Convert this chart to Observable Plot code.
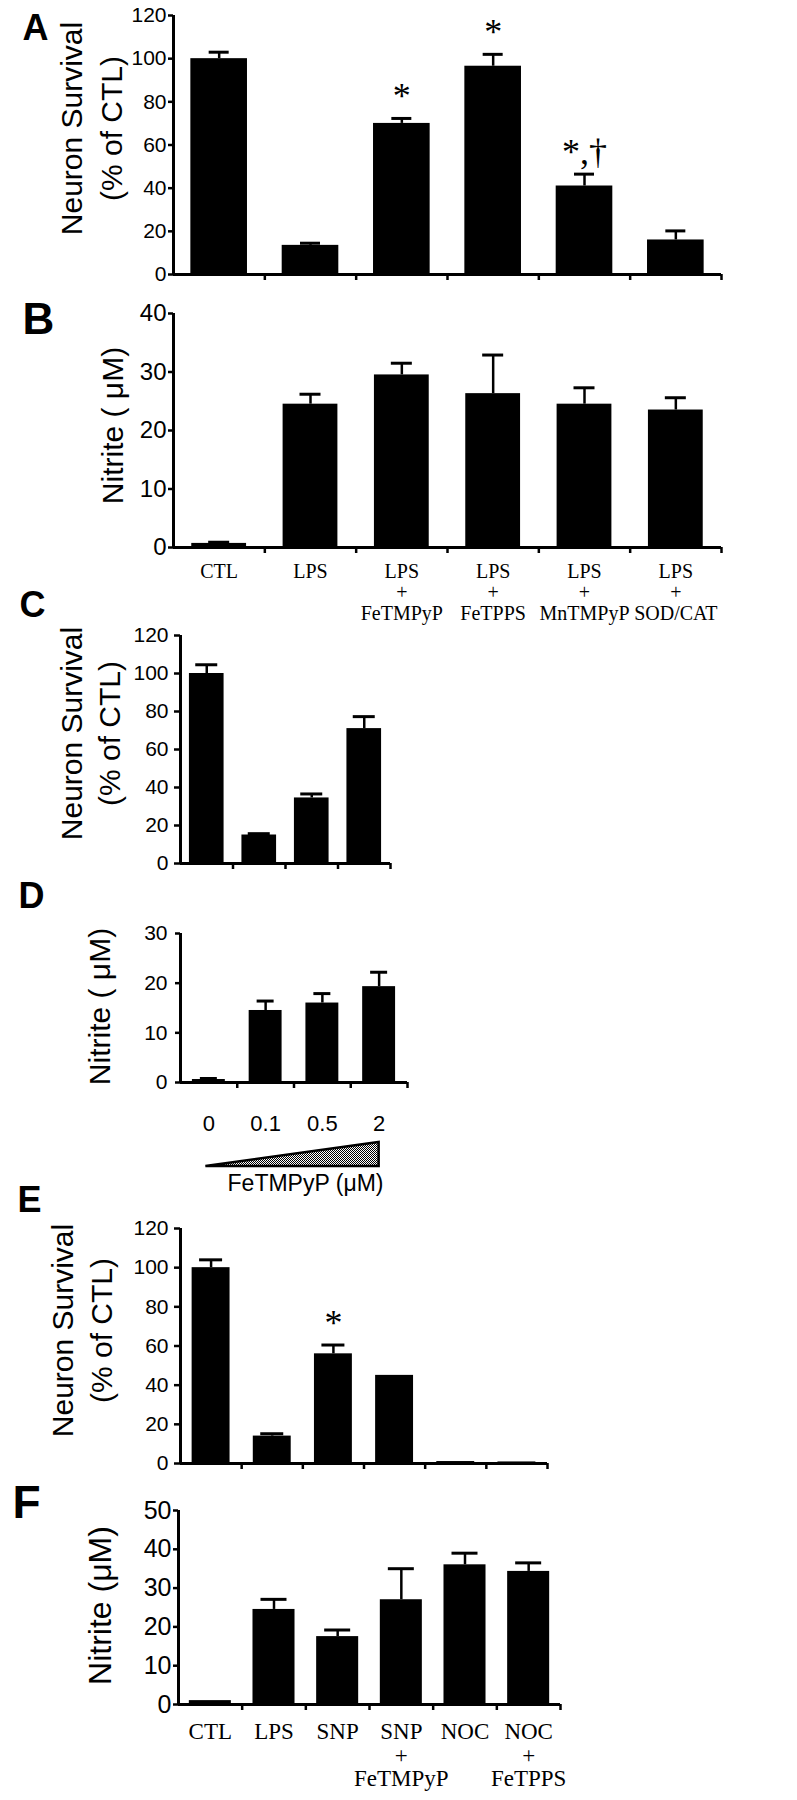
<!DOCTYPE html>
<html><head><meta charset="utf-8">
<script src="https://cdn.jsdelivr.net/npm/d3@7"></script>
<script src="https://cdn.jsdelivr.net/npm/@observablehq/plot@0.6"></script>
<style>
body{margin:0;background:#fff;}
#fig{position:relative;width:797px;height:1800px;overflow:hidden;}
</style></head><body><div id="fig"></div>
<script>
// ---- data ----
const catsAB = ["CTL", "LPS", "LPS\n+\nFeTMPyP", "LPS\n+\nFeTPPS", "LPS\n+\nMnTMPyP", "LPS\n+\nSOD/CAT"];
const survivalA = [100, 13.5, 70, 96.5, 41, 16];
const survivalAErr = [3, 1, 2.3, 5.5, 5.5, 4.2];
const marksA = ["", "", "*", "*", "*,†", ""];
const nitriteB = [0.7, 24.5, 29.5, 26.3, 24.5, 23.5];
const nitriteBErr = [0.2, 1.7, 2, 6.6, 2.8, 2.1];
const dosesCD = ["0", "0.1", "0.5", "2"];
const survivalC = [100, 15, 34.5, 71];
const survivalCErr = [4.6, 0.7, 2.1, 6.3];
const nitriteD = [0.6, 14.5, 16, 19.3];
const nitriteDErr = [0.2, 1.9, 1.9, 2.9];
const catsEF = ["CTL", "LPS", "SNP", "SNP\n+\nFeTMPyP", "NOC", "NOC\n+\nFeTPPS"];
const survivalE = [100, 14, 56, 45, 1, 0.8];
const survivalEErr = [4, 1.2, 4.5, 0, 0, 0];
const marksE = ["", "", "*", "", "", ""];
const nitriteF = [1, 24.5, 17.5, 27, 36, 34.3];
const nitriteFErr = [0, 2.6, 1.7, 8, 3, 2.2];
const ticksSurvival = [0, 20, 40, 60, 80, 100, 120];
const ticksNitrite40 = [0, 10, 20, 30, 40];
const ticksNitrite30 = [0, 10, 20, 30];
const ticksNitrite50 = [0, 10, 20, 30, 40, 50];
const titleSurvival = ["Neuron Survival", "(% of CTL)"];

const W = 797;
const fig = document.getElementById("fig");
const SANS = "'Liberation Sans', Arial, Helvetica, sans-serif";
const SERIF = "'Liberation Serif', 'Times New Roman', serif";

function panel(o) {
  const n = o.cats.length;
  const mt = o.yTopPx - o.top, mb = o.bottom - o.y0Px, height = o.bottom - o.top;
  const ml = o.x0, mr = W - o.x1;
  const band = (o.x1 - o.x0) / n;
  const rows = o.cats.map((c, i) => ({i, c, v: o.values[i], e: o.errs[i], s: o.stars ? o.stars[i] : ""}));
  const bh = o.barFrac / 2, ch = o.capPx / 2 / band;
  const withErr = rows.filter(d => d.e > 0);
  const frameMid = o.top + mt + (height - mt - mb) / 2;
  const marks = [
    Plot.rectY(rows, {x1: d => d.i + 0.5 - bh, x2: d => d.i + 0.5 + bh, y1: 0, y2: "v", fill: "black"}),
    Plot.ruleX(withErr, {x: d => d.i + 0.5, y1: "v", y2: d => d.v + d.e, strokeWidth: 2.5}),
    Plot.ruleY(withErr, {y: d => d.v + d.e, x1: d => d.i + 0.5 - ch, x2: d => d.i + 0.5 + ch, strokeWidth: 3}),
    Plot.axisY({ticks: o.yTicks, tickSize: o.tickSize, tickPadding: o.tickPadding, strokeWidth: 2.5, fontSize: o.tickFont, fontFamily: SANS, label: null}),
    Plot.axisX({ticks: d3.range(1, n + 1), tickSize: 6, tickFormat: () => "", strokeWidth: 2.5, label: null}),
    Plot.ruleX([0], {strokeWidth: 3}),
    Plot.ruleY([0], {strokeWidth: 3}),
    Plot.text([o.letter.t], {frameAnchor: "top-left", dx: o.letter.x - ml, dy: o.letter.y - o.yTopPx, lineAnchor: "top", textAnchor: "start", fontWeight: "bold", fontSize: o.letter.size, fontFamily: SANS}),
    ...o.ytitle.map(t => Plot.text([t.t], {frameAnchor: "left", textAnchor: "middle", lineAnchor: "middle", rotate: -90, dx: t.x - ml, dy: o.ytitleY - frameMid, fontSize: o.ytitleSize, fontFamily: SANS}))
  ];
  if (o.stars) marks.push(Plot.text(rows.filter(d => d.s), {x: d => d.i + 0.5, y: d => d.v + d.e, text: "s", lineAnchor: "bottom", dy: -10, fontSize: 36, fontFamily: SERIF}));
  if (o.xlabels) marks.push(Plot.text(rows, {x: d => d.i + 0.5, text: "c", frameAnchor: "bottom", lineAnchor: o.xlabels.anchor, dy: o.xlabels.dy, lineHeight: o.xlabels.lh, fontSize: o.xlabels.size, fontFamily: o.xlabels.font}));
  if (o.extra) marks.push(...o.extra);
  const svg = Plot.plot({
    width: W, height,
    marginTop: mt, marginBottom: mb, marginLeft: ml, marginRight: mr,
    x: {domain: [0, n], axis: null},
    y: {domain: o.yDomain, axis: null},
    style: {background: "transparent", color: "black", fontFamily: SANS, fontSize: o.tickFont + "px", overflow: "visible"},
    marks
  });
  svg.style.position = "absolute";
  svg.style.left = "0px";
  svg.style.top = o.top + "px";
  fig.appendChild(svg);
  return svg;
}

panel({top: 0, bottom: 300, yTopPx: 15, y0Px: 274, x0: 173, x1: 721,
  cats: catsAB, values: survivalA, errs: survivalAErr, stars: marksA,
  yDomain: [0, 120], yTicks: ticksSurvival, tickFont: 21, tickSize: 5, tickPadding: 2,
  barFrac: 0.62, capPx: 20, letter: {t: "A", x: 22, y: 14, size: 36},
  ytitle: [{t: titleSurvival[0], x: 72}, {t: titleSurvival[1], x: 112}], ytitleY: 128, ytitleSize: 30});

panel({top: 290, bottom: 630, yTopPx: 313, y0Px: 547, x0: 173, x1: 721,
  cats: catsAB, values: nitriteB, errs: nitriteBErr,
  yDomain: [0, 40], yTicks: ticksNitrite40, tickFont: 24, tickSize: 5, tickPadding: 2,
  barFrac: 0.6, capPx: 21, letter: {t: "B", x: 22, y: 302, size: 44},
  ytitle: [{t: "Nitrite ( μM)", x: 113}], ytitleY: 425, ytitleSize: 30,
  xlabels: {anchor: "top", dy: 15, lh: 1.07, size: 20, font: SERIF}});

panel({top: 580, bottom: 880, yTopPx: 635, y0Px: 863, x0: 180, x1: 390,
  cats: dosesCD, values: survivalC, errs: survivalCErr,
  yDomain: [0, 120], yTicks: ticksSurvival, tickFont: 21, tickSize: 6, tickPadding: 6,
  barFrac: 0.66, capPx: 22, letter: {t: "C", x: 19, y: 591, size: 36},
  ytitle: [{t: titleSurvival[0], x: 72}, {t: titleSurvival[1], x: 110}], ytitleY: 733, ytitleSize: 30});

const svgD = panel({top: 870, bottom: 1200, yTopPx: 933, y0Px: 1082, x0: 180, x1: 407,
  cats: dosesCD, values: nitriteD, errs: nitriteDErr,
  yDomain: [0, 30], yTicks: ticksNitrite30, tickFont: 21, tickSize: 5, tickPadding: 8,
  barFrac: 0.58, capPx: 17, letter: {t: "D", x: 18, y: 882, size: 36},
  ytitle: [{t: "Nitrite ( μM)", x: 100}], ytitleY: 1006, ytitleSize: 30,
  xlabels: {anchor: "middle", dy: 41, lh: 1, size: 22, font: SANS},
  extra: [Plot.text(["FeTMPyP (μM)"], {frameAnchor: "bottom-right", dx: -24, dy: 101, textAnchor: "end", lineAnchor: "middle", fontSize: 23, fontFamily: SANS})]});

// concentration wedge under panel D, spanning first to last dose
{
  const sx = svgD.scale("x");
  const xa = sx.apply(0.5) - 3, xb = sx.apply(dosesCD.length - 0.5);
  const yt = 1142 - 870, yb = 1166 - 870;
  const s = d3.select(svgD);
  const pat = s.append("defs").append("pattern").attr("id", "wedgeDots")
    .attr("width", 2).attr("height", 2).attr("patternUnits", "userSpaceOnUse");
  pat.append("rect").attr("width", 2).attr("height", 2).attr("fill", "#fff");
  pat.append("rect").attr("width", 1).attr("height", 1).attr("fill", "#000");
  pat.append("rect").attr("x", 1).attr("y", 1).attr("width", 1).attr("height", 1).attr("fill", "#000");
  s.append("path").attr("d", `M${xa},${yb}L${xb},${yt}L${xb},${yb}Z`)
    .attr("fill", "url(#wedgeDots)").attr("stroke", "black").attr("stroke-width", 2.5);
}

panel({top: 1180, bottom: 1480, yTopPx: 1228, y0Px: 1463, x0: 180, x1: 547,
  cats: catsEF, values: survivalE, errs: survivalEErr, stars: marksE,
  yDomain: [0, 120], yTicks: ticksSurvival, tickFont: 21, tickSize: 6, tickPadding: 6,
  barFrac: 0.62, capPx: 23, letter: {t: "E", x: 17, y: 1186, size: 36},
  ytitle: [{t: titleSurvival[0], x: 63}, {t: titleSurvival[1], x: 102}], ytitleY: 1330, ytitleSize: 30});

panel({top: 1475, bottom: 1800, yTopPx: 1510, y0Px: 1704, x0: 178, x1: 560,
  cats: catsEF, values: nitriteF, errs: nitriteFErr,
  yDomain: [0, 50], yTicks: ticksNitrite50, tickFont: 25, tickSize: 5, tickPadding: 2,
  barFrac: 0.66, capPx: 26, letter: {t: "F", x: 12, y: 1485, size: 46},
  ytitle: [{t: "Nitrite (μM)", x: 100}], ytitleY: 1605, ytitleSize: 32,
  xlabels: {anchor: "top", dy: 18, lh: 1.02, size: 23, font: SERIF}});
</script>
</body></html>
